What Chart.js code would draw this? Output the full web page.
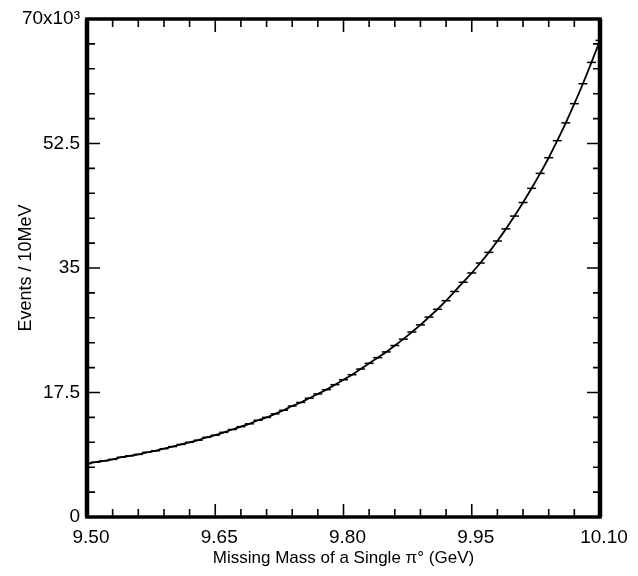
<!DOCTYPE html>
<html>
<head>
<meta charset="utf-8">
<script src="https://cdn.jsdelivr.net/npm/chart.js@4"></script>
<style>
  html, body { margin: 0; padding: 0; background: #fff; }
  #wrap { width: 638px; height: 576px; }
</style>
</head>
<body>
<div id="wrap"><canvas id="massChart" width="638" height="576"></canvas></div>
<script>
// missing mass bins (GeV), 10 MeV wide
var massGeV = [9.50, 9.51, 9.52, 9.53, 9.54, 9.55, 9.56, 9.57, 9.58, 9.59,
  9.60, 9.61, 9.62, 9.63, 9.64, 9.65, 9.66, 9.67, 9.68, 9.69,
  9.70, 9.71, 9.72, 9.73, 9.74, 9.75, 9.76, 9.77, 9.78, 9.79,
  9.80, 9.81, 9.82, 9.83, 9.84, 9.85, 9.86, 9.87, 9.88, 9.89,
  9.90, 9.91, 9.92, 9.93, 9.94, 9.95, 9.96, 9.97, 9.98, 9.99,
  10.00, 10.01, 10.02, 10.03, 10.04, 10.05, 10.06, 10.07, 10.08, 10.09, 10.10];

// events per 10 MeV, in units of 10^3
var events = [7.5, 7.7, 7.9, 8.1, 8.4, 8.6, 8.8, 9.1, 9.3, 9.6,
  9.9, 10.2, 10.5, 10.8, 11.2, 11.5, 11.9, 12.3, 12.7, 13.1,
  13.6, 14.0, 14.5, 15.0, 15.6, 16.1, 16.7, 17.3, 17.9, 18.6,
  19.3, 20.0, 20.8, 21.6, 22.4, 23.2, 24.1, 25.0, 26.0, 27.0,
  28.1, 29.2, 30.4, 31.7, 33.0, 34.3, 35.7, 37.2, 38.8, 40.5,
  42.3, 44.2, 46.2, 48.3, 50.5, 52.9, 55.4, 58.1, 60.9, 63.9, 67.0];

var xTickLabels = ['9.50', '9.65', '9.80', '9.95', '10.10'];
var yTickLabels = ['0', '17.5', '35', '52.5', '70x10\u00B3'];

var FONT = '"Liberation Sans", Arial, sans-serif';

function majorIndex(v, start, step) {
  var k = Math.round((v - start) / step);
  return Math.abs((v - start) / step - k) < 1e-6 ? k : -1;
}

// ticks pointing inward on all four sides, plus the heavy frame
var frameTicks = {
  id: 'frameTicks',
  afterDraw: function(chart) {
    var ctx = chart.ctx;
    var a = chart.chartArea;
    var xs = chart.scales.x, ys = chart.scales.y;
    ctx.save();
    ctx.strokeStyle = '#000';
    ctx.lineWidth = 1.6;
    ctx.beginPath();
    xs.ticks.forEach(function(t) {
      var px = xs.getPixelForValue(t.value);
      var big = majorIndex(t.value, 9.5, 0.15) >= 0;
      ctx.moveTo(px, a.bottom); ctx.lineTo(px, a.bottom - (big ? 13 : 8));
      ctx.moveTo(px, a.top); ctx.lineTo(px, a.top + (big ? 13 : 8));
    });
    ys.ticks.forEach(function(t) {
      var py = ys.getPixelForValue(t.value);
      var big = majorIndex(t.value, 0, 17.5) >= 0;
      ctx.moveTo(a.left, py); ctx.lineTo(a.left + (big ? 13 : 8), py);
      ctx.moveTo(a.right, py); ctx.lineTo(a.right - (big ? 13 : 7), py);
    });
    ctx.stroke();
    ctx.lineWidth = 3.5;
    ctx.strokeRect(a.left, a.top, a.right - a.left, a.bottom - a.top);
    ctx.beginPath();
    ctx.lineWidth = 4.5;
    ctx.moveTo(a.left, a.top); ctx.lineTo(a.left, a.bottom);
    ctx.moveTo(a.right, a.top); ctx.lineTo(a.right, a.bottom);
    ctx.stroke();
    ctx.restore();
  }
};

var ctx = document.getElementById('massChart').getContext('2d');
var massChart = new Chart(ctx, {
  type: 'line',
  data: {
    datasets: [{
      label: 'Events',
      data: massGeV.map(function(m, i) { return { x: m, y: events[i] }; }),
      borderColor: '#000',
      backgroundColor: '#000',
      borderWidth: 1.8,
      cubicInterpolationMode: 'monotone',
      pointStyle: 'line',
      pointRadius: 4.5,
      pointBorderWidth: 1.5,
      pointBorderColor: '#000',
      fill: false
    }]
  },
  options: {
    responsive: false,
    animation: false,
    layout: { padding: { top: 19, right: 38, left: 0, bottom: 0 } },
    plugins: {
      legend: { display: false },
      tooltip: { enabled: false }
    },
    scales: {
      x: {
        type: 'linear',
        min: 9.5,
        max: 10.1,
        grid: { display: false, drawTicks: false },
        border: { display: false },
        ticks: {
          stepSize: 0.03,
          precision: 2,
          autoSkip: false,
          maxRotation: 0,
          padding: 9,
          labelOffset: 4,
          color: '#000',
          font: { family: FONT, size: 19 },
          callback: function(v) {
            var k = majorIndex(v, 9.5, 0.15);
            return k >= 0 ? xTickLabels[k] : '';
          }
        },
        title: {
          display: true,
          text: 'Missing Mass of a Single \u03C0\u00B0 (GeV)',
          color: '#000',
          font: { family: FONT, size: 17 },
          padding: { top: 0, bottom: 7 }
        },
        afterFit: function(scale) { scale.height = 59; }
      },
      y: {
        min: 0,
        max: 70,
        grid: { display: false, drawTicks: false },
        border: { display: false },
        ticks: {
          stepSize: 3.5,
          autoSkip: false,
          padding: 7,
          color: '#000',
          font: { family: FONT, size: 19 },
          callback: function(v) {
            var k = majorIndex(v, 0, 17.5);
            return k >= 0 ? yTickLabels[k] : '';
          }
        },
        title: {
          display: true,
          text: 'Events / 10MeV',
          color: '#000',
          font: { family: FONT, size: 18 },
          padding: { top: 15, bottom: 0 }
        },
        afterFit: function(scale) { scale.width = 87; }
      }
    }
  },
  plugins: [frameTicks]
});
</script>
</body>
</html>
